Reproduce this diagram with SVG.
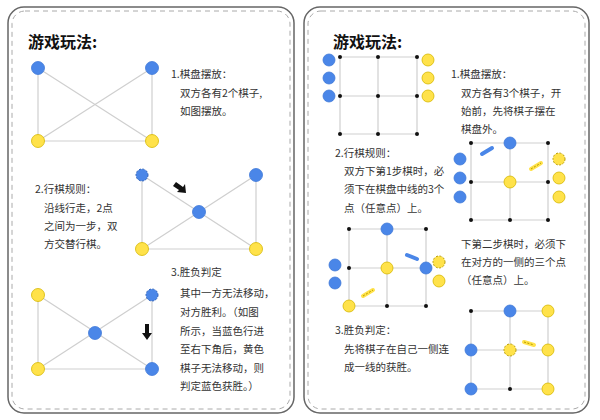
<svg xmlns="http://www.w3.org/2000/svg" width="600" height="420" viewBox="0 0 600 420">
<style>
.panel{fill:#fff;stroke:#666;stroke-width:1.5}
.dash{fill:none;stroke:#aaa;stroke-width:1;stroke-dasharray:5 4}
.ln{stroke:#cfcfcf;stroke-width:1.2;fill:none}
.b{fill:#4a86e8;stroke:#3f78d8;stroke-width:0.8}
.y{fill:#ffe24a;stroke:#d6b800;stroke-width:0.8}
.yd{fill:#ffe24a;stroke:#b89c00;stroke-width:1;stroke-dasharray:2 1.5}
.bd{fill:#4a86e8;stroke:#2b5fb8;stroke-width:1;stroke-dasharray:2 1.5}
.d{fill:#111}
.t{font-family:"Noto Sans CJK SC","Liberation Sans",sans-serif;font-size:10.5px;fill:#333}
.h{font-family:"Noto Sans CJK SC","Liberation Sans",sans-serif;font-size:16px;font-weight:bold;fill:#111}
</style>
<rect width="600" height="420" fill="#fff"/>
<rect class="panel" x="8" y="7" width="286" height="406" rx="16"/>
<rect class="dash" x="12" y="11" width="278" height="398" rx="13"/>
<rect class="panel" x="304" y="7" width="285" height="406" rx="16"/>
<rect class="dash" x="308" y="11" width="277" height="398" rx="13"/>
<text class="h" x="28" y="48">游戏玩法:</text>
<text class="h" x="333" y="48">游戏玩法:</text>
<g id="connectors">
<path class="ln" d="M38 68V141H152V68M38 68L152 141M152 68L38 141"/>
<path class="ln" d="M142 175V249H256V175M142 175L256 249M256 175L142 249"/>
<path class="ln" d="M38 295V369H152V295M38 295L152 369M152 295L38 369"/>
<path class="ln" d="M340 57H417V134H340ZM378 57V134M340 96H417"/>
<path class="ln" d="M471 143H548V220H471ZM510 143V220M471 182H548"/>
<path class="ln" d="M349 229H426V306H349ZM387 229V306M349 268H426"/>
<path class="ln" d="M471 311H548V389H471ZM510 311V389M471 350H548"/>
</g>
<g id="board1"><circle class="b" cx="38" cy="68" r="6.5"/><circle class="b" cx="152" cy="68" r="6.5"/><circle class="y" cx="38" cy="141" r="6.5"/><circle class="y" cx="152" cy="141" r="6.5"/></g>
<g id="board2"><circle class="bd" cx="142" cy="175" r="6"/><circle class="b" cx="256" cy="175" r="6.5"/><circle class="b" cx="199" cy="212" r="6.5"/><circle class="y" cx="142" cy="249" r="6.5"/><circle class="y" cx="256" cy="249" r="6.5"/>
<path d="M173 186l3-4 7 5 2-3 1 9-9-1 2-2z" fill="#111"/></g>
<g id="board3"><circle class="y" cx="38" cy="295" r="6.5"/><circle class="y" cx="38" cy="369" r="6.5"/><circle class="bd" cx="152" cy="295" r="6"/><circle class="b" cx="95" cy="333" r="6.5"/><circle class="b" cx="152" cy="369" r="6.5"/>
<path d="M145 324h4v9h3l-5 7-5-7h3z" fill="#111"/></g>
<g id="grid1"><circle class="d" cx="340" cy="57" r="2"/><circle class="d" cx="378" cy="57" r="2"/><circle class="d" cx="417" cy="57" r="2"/><circle class="d" cx="340" cy="96" r="2"/><circle class="d" cx="378" cy="96" r="2"/><circle class="d" cx="417" cy="96" r="2"/><circle class="d" cx="340" cy="134" r="2"/><circle class="d" cx="378" cy="134" r="2"/><circle class="d" cx="417" cy="134" r="2"/>
<circle class="b" cx="329" cy="60" r="6"/><circle class="b" cx="329" cy="78" r="6"/><circle class="b" cx="329" cy="96" r="6"/><circle class="y" cx="428" cy="60" r="6"/><circle class="y" cx="428" cy="78" r="6"/><circle class="y" cx="428" cy="96" r="6"/></g>
<g id="grid2"><circle class="d" cx="471" cy="143" r="2"/><circle class="d" cx="548" cy="143" r="2"/><circle class="d" cx="471" cy="182" r="2"/><circle class="d" cx="548" cy="182" r="2"/><circle class="d" cx="471" cy="220" r="2"/><circle class="d" cx="510" cy="220" r="2"/><circle class="d" cx="548" cy="220" r="2"/>
<circle class="b" cx="510" cy="143" r="6"/><circle class="y" cx="510" cy="182" r="6"/><circle class="b" cx="460" cy="159" r="6"/><circle class="b" cx="460" cy="178" r="6"/><circle class="b" cx="460" cy="197" r="6"/><circle class="yd" cx="559" cy="159" r="6"/><circle class="y" cx="559" cy="178" r="6"/><circle class="y" cx="559" cy="197" r="6"/>
<path d="M482 154l10-6" stroke="#4a86e8" stroke-width="4" stroke-linecap="round"/><path d="M531 169l10-6" stroke="#ffe24a" stroke-width="4" stroke-linecap="round"/><path d="M531 169l10-6" stroke="#b89c00" stroke-width="1" stroke-dasharray="2 1.5" fill="none"/></g>
<g id="grid3"><circle class="d" cx="349" cy="229" r="2"/><circle class="d" cx="426" cy="229" r="2"/><circle class="d" cx="349" cy="268" r="2"/><circle class="d" cx="387" cy="306" r="2"/><circle class="d" cx="426" cy="306" r="2"/>
<circle class="b" cx="387" cy="229" r="6"/><circle class="y" cx="387" cy="268" r="6"/><circle class="b" cx="426" cy="268" r="6"/><circle class="y" cx="349" cy="306" r="6"/><circle class="b" cx="335" cy="265" r="6"/><circle class="b" cx="335" cy="283" r="6"/><circle class="yd" cx="439" cy="262" r="6"/><circle class="y" cx="439" cy="281" r="6"/>
<path d="M407 255l10 4" stroke="#4a86e8" stroke-width="4" stroke-linecap="round"/><path d="M363 296l10-6" stroke="#ffe24a" stroke-width="4" stroke-linecap="round"/><path d="M363 296l10-6" stroke="#b89c00" stroke-width="1" stroke-dasharray="2 1.5"/></g>
<g id="grid4"><circle class="d" cx="471" cy="311" r="2"/><circle class="d" cx="510" cy="389" r="2"/>
<circle class="b" cx="510" cy="311" r="6"/><circle class="y" cx="548" cy="311" r="6"/><circle class="b" cx="471" cy="350" r="6"/><circle class="yd" cx="510" cy="350" r="6"/><circle class="y" cx="548" cy="350" r="6"/><circle class="b" cx="471" cy="389" r="6"/><circle class="y" cx="548" cy="389" r="6"/>
<path d="M524 342l10 3" stroke="#ffe24a" stroke-width="4" stroke-linecap="round"/><path d="M524 342l10 3" stroke="#b89c00" stroke-width="1" stroke-dasharray="2 1.5"/></g>
<g id="texts" class="t">
<text class="t" x="171" y="78">1.棋盘摆放：</text>
<text class="t" x="180" y="97">双方各有2个棋子,</text>
<text class="t" x="180" y="115">如图摆放。</text>
<text class="t" x="35" y="193">2.行棋规则：</text>
<text class="t" x="44" y="212">沿线行走，2点</text>
<text class="t" x="44" y="230">之间为一步，双</text>
<text class="t" x="44" y="248">方交替行棋。</text>
<text class="t" x="171" y="276">3.胜负判定</text>
<text class="t" x="180" y="297">其中一方无法移动，</text>
<text class="t" x="180" y="316">对方胜利。（如图</text>
<text class="t" x="180" y="335">所示，当蓝色行进</text>
<text class="t" x="180" y="353">至右下角后，黄色</text>
<text class="t" x="180" y="372">棋子无法移动，则</text>
<text class="t" x="180" y="390">判定蓝色获胜。）</text>
<text class="t" x="451" y="78">1.棋盘摆放：</text>
<text class="t" x="461" y="97">双方各有3个棋子，开</text>
<text class="t" x="461" y="115">始前，先将棋子摆在</text>
<text class="t" x="461" y="133">棋盘外。</text>
<text class="t" x="335" y="157">2.行棋规则：</text>
<text class="t" x="344" y="175">双方下第1步棋时，必</text>
<text class="t" x="344" y="193">须下在棋盘中线的3个</text>
<text class="t" x="344" y="212">点（任意点）上。</text>
<text class="t" x="461" y="248">下第二步棋时，必须下</text>
<text class="t" x="461" y="266">在对方的一侧的三个点</text>
<text class="t" x="461" y="284">（任意点）上。</text>
<text class="t" x="335" y="334">3.胜负判定：</text>
<text class="t" x="344" y="353">先将棋子在自己一侧连</text>
<text class="t" x="344" y="371">成一线的获胜。</text>
</g>
</svg>
